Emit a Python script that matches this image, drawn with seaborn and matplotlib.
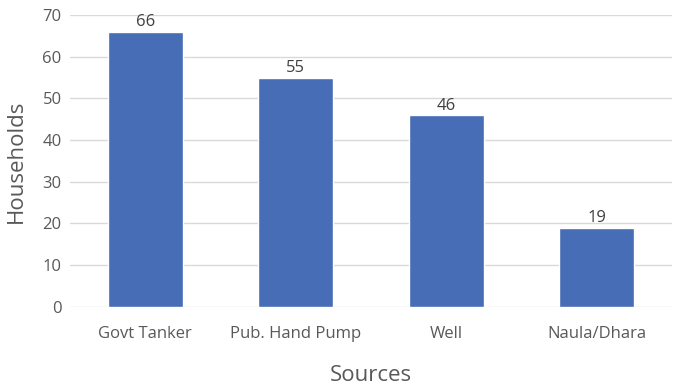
import seaborn as sns
import pandas as pd
import matplotlib.pyplot as plt

# Data
sources = ["Govt Tanker", "Pub. Hand Pump", "Well", "Naula/Dhara"]
households = [66, 55, 46, 19]

df = pd.DataFrame({"Sources": sources, "Households": households})

sns.set_style("white")
plt.rcParams["font.family"] = ["Open Sans", "DejaVu Sans"]

fig = plt.figure(figsize=(6.8, 3.86), dpi=100)
ax = fig.add_axes([0.103, 0.205, 0.885, 0.756])

sns.barplot(data=df, x="Sources", y="Households", color="#466DB5",
            width=0.5, saturation=1, ax=ax, zorder=3)

for i, v in enumerate(households):
    ax.text(i, v + 0.3, str(v), ha="center", va="bottom", fontsize=12, color="#404040")

ax.set_ylim(0, 70)
ax.set_xlim(-0.5, 3.5)
ax.set_yticks(range(0, 71, 10))
ax.yaxis.grid(True, color="#d9d9d9", linewidth=1, zorder=0)
for s in ax.spines.values():
    s.set_visible(False)
ax.tick_params(axis="both", length=0, labelsize=12, labelcolor="#595959")
ax.tick_params(axis="y", pad=6)
ax.tick_params(axis="x", pad=14)
ax.set_xlabel("Sources", fontsize=16, color="#595959", labelpad=16)
ax.set_ylabel("Households", fontsize=16, color="#595959", labelpad=11)

fig.savefig("out.png", dpi=100)
